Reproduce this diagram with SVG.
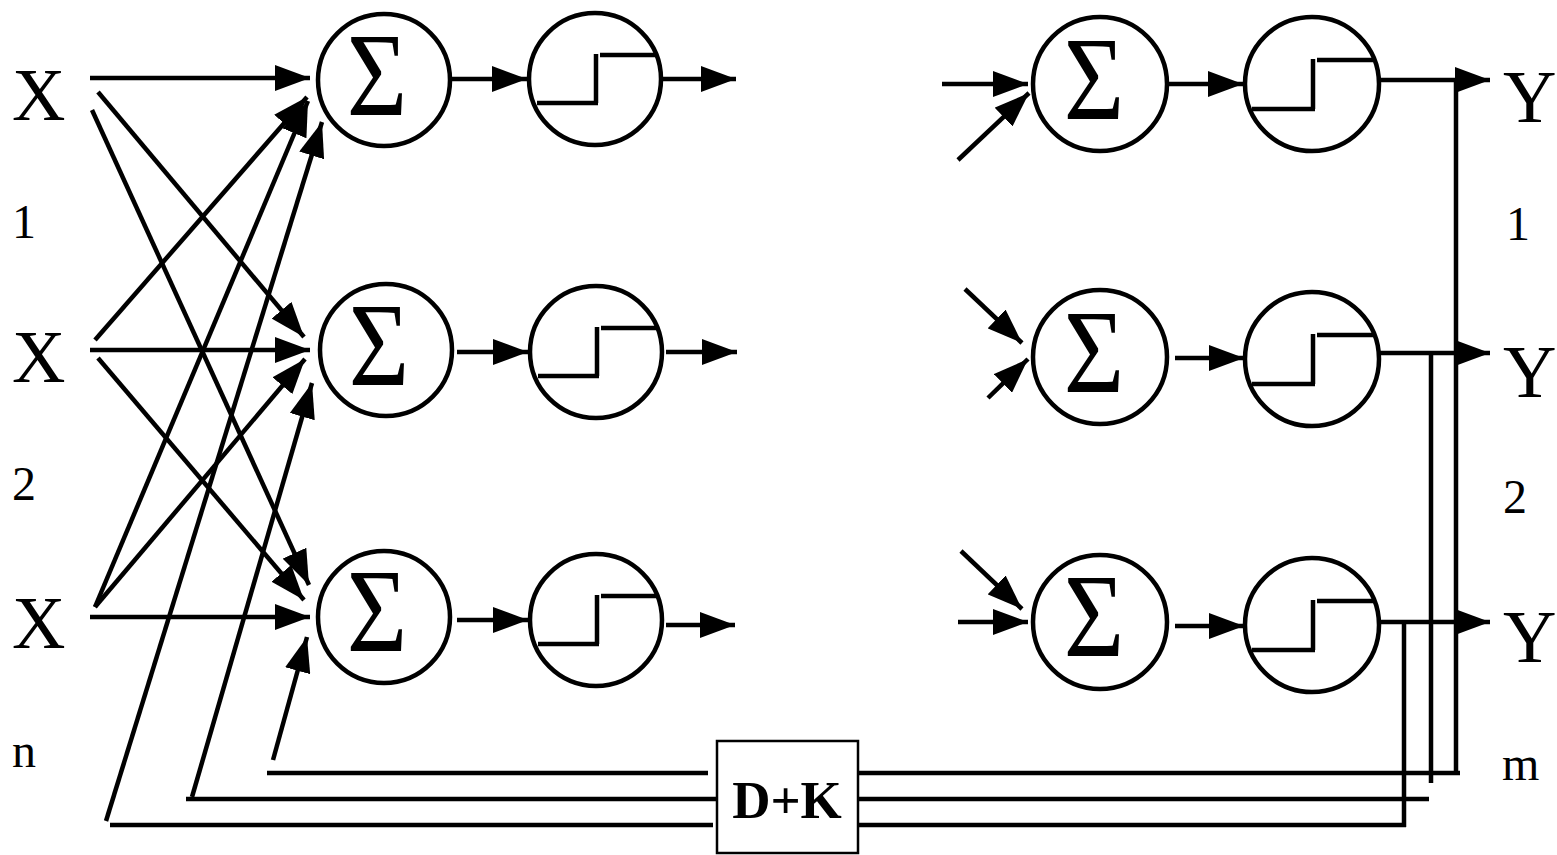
<svg xmlns="http://www.w3.org/2000/svg" width="1557" height="855" viewBox="0 0 1557 855">
<style>
.c{fill:none;stroke:#000;stroke-width:4.5}
.l{fill:none;stroke:#000;stroke-width:4.5}
.a{fill:none;stroke:#000;stroke-width:4.5;marker-end:url(#ah)}
.t{font-family:"Liberation Serif","Times New Roman",serif;fill:#000}
.big{font-size:74px}
.sub{font-size:48px}
.sig{font-size:118px;text-anchor:middle}
</style>
<defs>
<marker id="ah" markerUnits="userSpaceOnUse" markerWidth="35" markerHeight="26" viewBox="0 0 35 26" refX="35" refY="13" orient="auto">
<path d="M0,0 L35,13 L0,26 z" fill="#000"/>
</marker>
</defs>
<rect width="1557" height="855" fill="#fff"/>

<g id="labels-left" class="t">
<text class="big" x="12" y="120">X</text>
<text class="sub" x="12" y="238">1</text>
<text class="big" x="12" y="382">X</text>
<text class="sub" x="12" y="500">2</text>
<text class="big" x="12" y="648">X</text>
<text class="sub" x="12" y="767">n</text>
</g>
<g id="labels-right" class="t">
<text class="big" x="1503" y="122">Y</text>
<text class="sub" x="1506" y="240">1</text>
<text class="big" x="1503" y="397">Y</text>
<text class="sub" x="1503" y="513">2</text>
<text class="big" x="1503" y="662">Y</text>
<text class="sub" x="1502" y="780">m</text>
</g>

<g id="sumL1"><circle class="c" cx="384" cy="80" r="66"/><text class="t sig" transform="translate(377,115) scale(0.88,1)">Σ</text></g>
<g id="sumL2"><circle class="c" cx="386" cy="350" r="66"/><text class="t sig" transform="translate(379,385) scale(0.88,1)">Σ</text></g>
<g id="sumL3"><circle class="c" cx="384" cy="617" r="66"/><text class="t sig" transform="translate(377,651) scale(0.88,1)">Σ</text></g>

<g id="stepL1"><circle class="c" cx="595" cy="79" r="66"/><path class="l" d="M537,103 H598 M596,103 V54 M600,55 H657"/></g>
<g id="stepL2"><circle class="c" cx="596" cy="352" r="66"/><path class="l" d="M538,376 H599 M597,376 V327 M601,328 H658"/></g>
<g id="stepL3"><circle class="c" cx="596" cy="620" r="66"/><path class="l" d="M538,644 H599 M597,644 V595 M601,596 H658"/></g>

<g id="sumR1"><circle class="c" cx="1100" cy="84" r="67"/><text class="t sig" transform="translate(1094,119) scale(0.88,1)">Σ</text></g>
<g id="sumR2"><circle class="c" cx="1100" cy="357" r="67"/><text class="t sig" transform="translate(1094,392) scale(0.88,1)">Σ</text></g>
<g id="sumR3"><circle class="c" cx="1100" cy="622" r="67"/><text class="t sig" transform="translate(1094,656) scale(0.88,1)">Σ</text></g>

<g id="stepR1"><circle class="c" cx="1312" cy="84" r="67"/><path class="l" d="M1252,109 H1315 M1313,109 V59 M1317,60 H1373"/></g>
<g id="stepR2"><circle class="c" cx="1312" cy="359" r="67"/><path class="l" d="M1252,384 H1315 M1313,384 V334 M1317,335 H1374"/></g>
<g id="stepR3"><circle class="c" cx="1312" cy="625" r="67"/><path class="l" d="M1252,650 H1315 M1313,650 V600 M1317,601 H1374"/></g>

<g id="dk">
<rect x="717" y="741" width="141" height="112" fill="#fff" stroke="#000" stroke-width="2.5"/>
<text class="t" x="787" y="818" font-size="53" font-weight="bold" text-anchor="middle">D+K</text>
</g>

<g id="connectors">
<line class="a" x1="90" y1="78" x2="310" y2="78"/>
<line class="a" x1="98" y1="92" x2="304" y2="337"/>
<line class="a" x1="92" y1="110" x2="309" y2="585"/>
<line class="a" x1="95" y1="340" x2="307" y2="97"/>
<line class="a" x1="90" y1="350" x2="310" y2="350"/>
<line class="a" x1="98" y1="358" x2="304" y2="600"/>
<line class="a" x1="95" y1="607" x2="308" y2="101"/>
<line class="a" x1="95" y1="607" x2="305" y2="359"/>
<line class="a" x1="90" y1="617" x2="310" y2="617"/>
<line class="a" x1="106" y1="821" x2="322" y2="122"/>
<line class="a" x1="192" y1="797" x2="312" y2="383"/>
<line class="a" x1="273" y1="760" x2="307" y2="637"/>
<line class="l" x1="110" y1="825" x2="713" y2="825"/>
<line class="l" x1="186" y1="799" x2="717" y2="799"/>
<line class="l" x1="267" y1="773" x2="708" y2="773"/>
<line class="a" x1="452" y1="79" x2="527" y2="79"/>
<line class="a" x1="662" y1="79" x2="736" y2="79"/>
<line class="a" x1="457" y1="352" x2="528" y2="352"/>
<line class="a" x1="666" y1="352" x2="737" y2="352"/>
<line class="a" x1="457" y1="620" x2="528" y2="620"/>
<line class="a" x1="666" y1="625" x2="735" y2="625"/>
<line class="a" x1="942" y1="84" x2="1028" y2="84"/>
<line class="a" x1="958" y1="160" x2="1029" y2="93"/>
<line class="a" x1="965" y1="289" x2="1022" y2="343"/>
<line class="a" x1="988" y1="398" x2="1028" y2="359"/>
<line class="a" x1="961" y1="551" x2="1022" y2="609"/>
<line class="a" x1="958" y1="622" x2="1028" y2="622"/>
<line class="a" x1="1168" y1="84" x2="1243" y2="84"/>
<line class="a" x1="1175" y1="358" x2="1244" y2="358"/>
<line class="a" x1="1175" y1="626" x2="1244" y2="626"/>
<line class="a" x1="1379" y1="80" x2="1490" y2="80"/>
<line class="a" x1="1379" y1="353" x2="1490" y2="353"/>
<line class="a" x1="1379" y1="622" x2="1490" y2="622"/>
<line class="l" x1="1456" y1="80" x2="1456" y2="775"/>
<line class="l" x1="1431" y1="353" x2="1431" y2="783"/>
<line class="l" x1="1404" y1="622" x2="1404" y2="827"/>
<line class="l" x1="858" y1="773" x2="1460" y2="773"/>
<line class="l" x1="858" y1="799" x2="1429" y2="799"/>
<line class="l" x1="858" y1="825" x2="1406" y2="825"/>
</g>
</svg>
